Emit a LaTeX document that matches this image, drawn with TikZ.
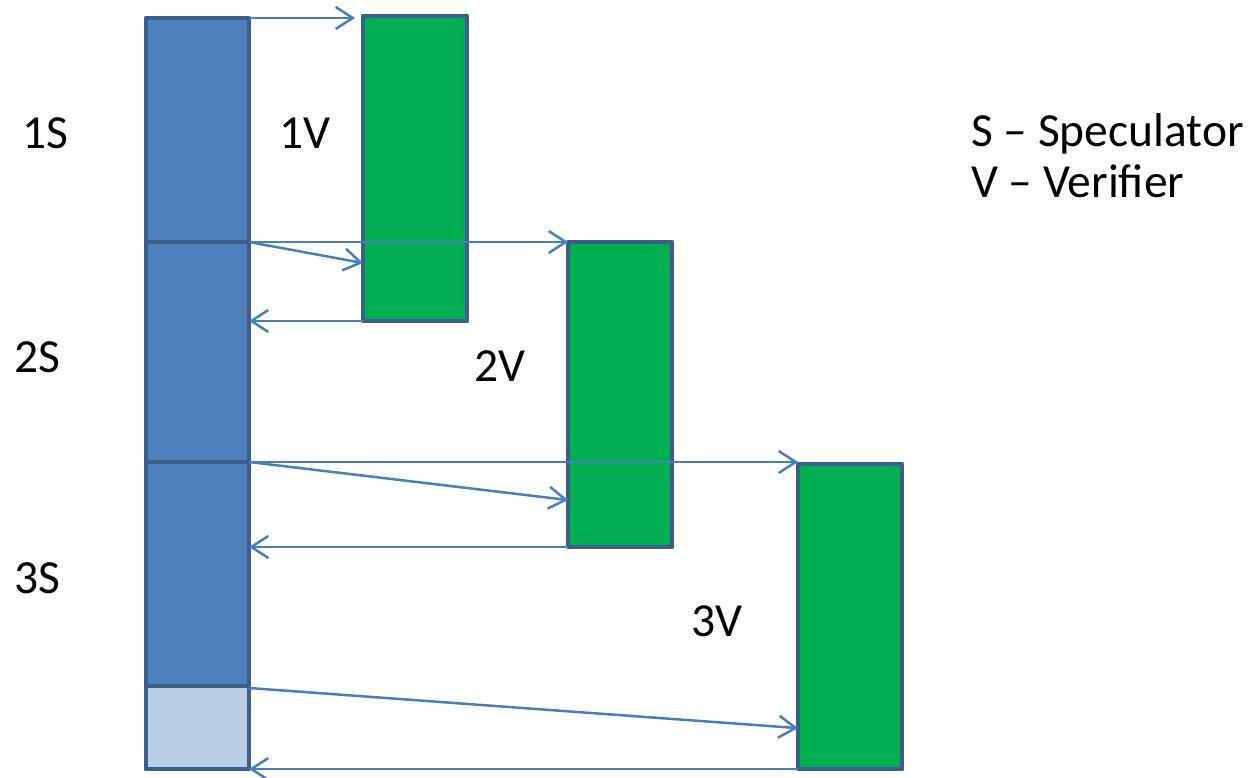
\documentclass[tikz,border=0pt]{standalone}
\usepackage{fontspec}
\setmainfont{Carlito}
\usetikzlibrary{arrows.meta,calc}
\definecolor{bordc}{HTML}{3B5E8C}
\definecolor{sfill}{HTML}{4F81BD}
\definecolor{slight}{HTML}{B9CDE5}
\definecolor{vfill}{HTML}{00B050}
\definecolor{arrc}{HTML}{4A7EBB}
\tikzset{
  boxbase/.style={draw=bordc, line width=4.8pt, line join=round, inner sep=0pt, outer sep=0pt, anchor=north west},
  sbox/.style={boxbase, fill=sfill, minimum width=103pt},
  vbox/.style={boxbase, fill=vfill, minimum width=104pt, minimum height=305pt},
  arr/.style={draw=arrc, line width=2.5pt, -{Straight Barb[length=17pt,width=22pt]}},
  lbl/.style={font=\fontsize{47.5}{52}\selectfont, inner sep=0pt}
}
\begin{document}
\begin{tikzpicture}[x=1pt,y=-1pt]
\useasboundingbox (0,0) rectangle (1255,778);
% speculator column
\node[sbox, minimum height=224pt] (s1) at (146,18) {};
\node[sbox, minimum height=220pt] (s2) at (146,242) {};
\node[sbox, minimum height=224pt] (s3) at (146,462) {};
\node[sbox, fill=slight, minimum height=83pt] (s4) at (146,686) {};
% verifiers
\node[vbox] (v1) at (363,16) {};
\node[vbox] (v2) at (568,242) {};
\node[vbox] (v3) at (798,464) {};
% arrows
\draw[arr, shorten >=8pt] (s1.north east) -- (s1.north east -| v1.west);
\draw[arr] (s2.north east) -- ($(v1.north west)!0.81!(v1.south west)$);
\draw[arr] (s2.north east) -- (s2.north east -| v2.west);
\draw[arr] (v1.south west) -- (v1.south west -| s1.east);
\draw[arr] (s3.north east) -- ($(v2.north west)!0.846!(v2.south west)$);
\draw[arr] (s3.north east) -- (s3.north east -| v3.west);
\draw[arr] (v2.south west) -- (v2.south west -| s1.east);
\draw[arr] ([yshift=-2pt]s4.north east) -- ($(v3.north west)!0.866!(v3.south west)$);
\draw[arr] (v3.south west) -- (v3.south west -| s1.east);
% labels
\node[lbl] (l1s) at (45,133) {1S};
\node[lbl] (l1v) at (305,133) {1V};
\node[lbl] (l2s) at (37,357) {2S};
\node[lbl] (l2v) at (500,366) {2V};
\node[lbl] (l3s) at (37,578) {3S};
\node[lbl] (l3v) at (717,621) {3V};
\node[lbl, anchor=base west] (leg1) at (971,147) {S – Speculator};
\node[lbl, anchor=base west] (leg2) at (971,198) {V – Verifier};
\end{tikzpicture}
\end{document}
